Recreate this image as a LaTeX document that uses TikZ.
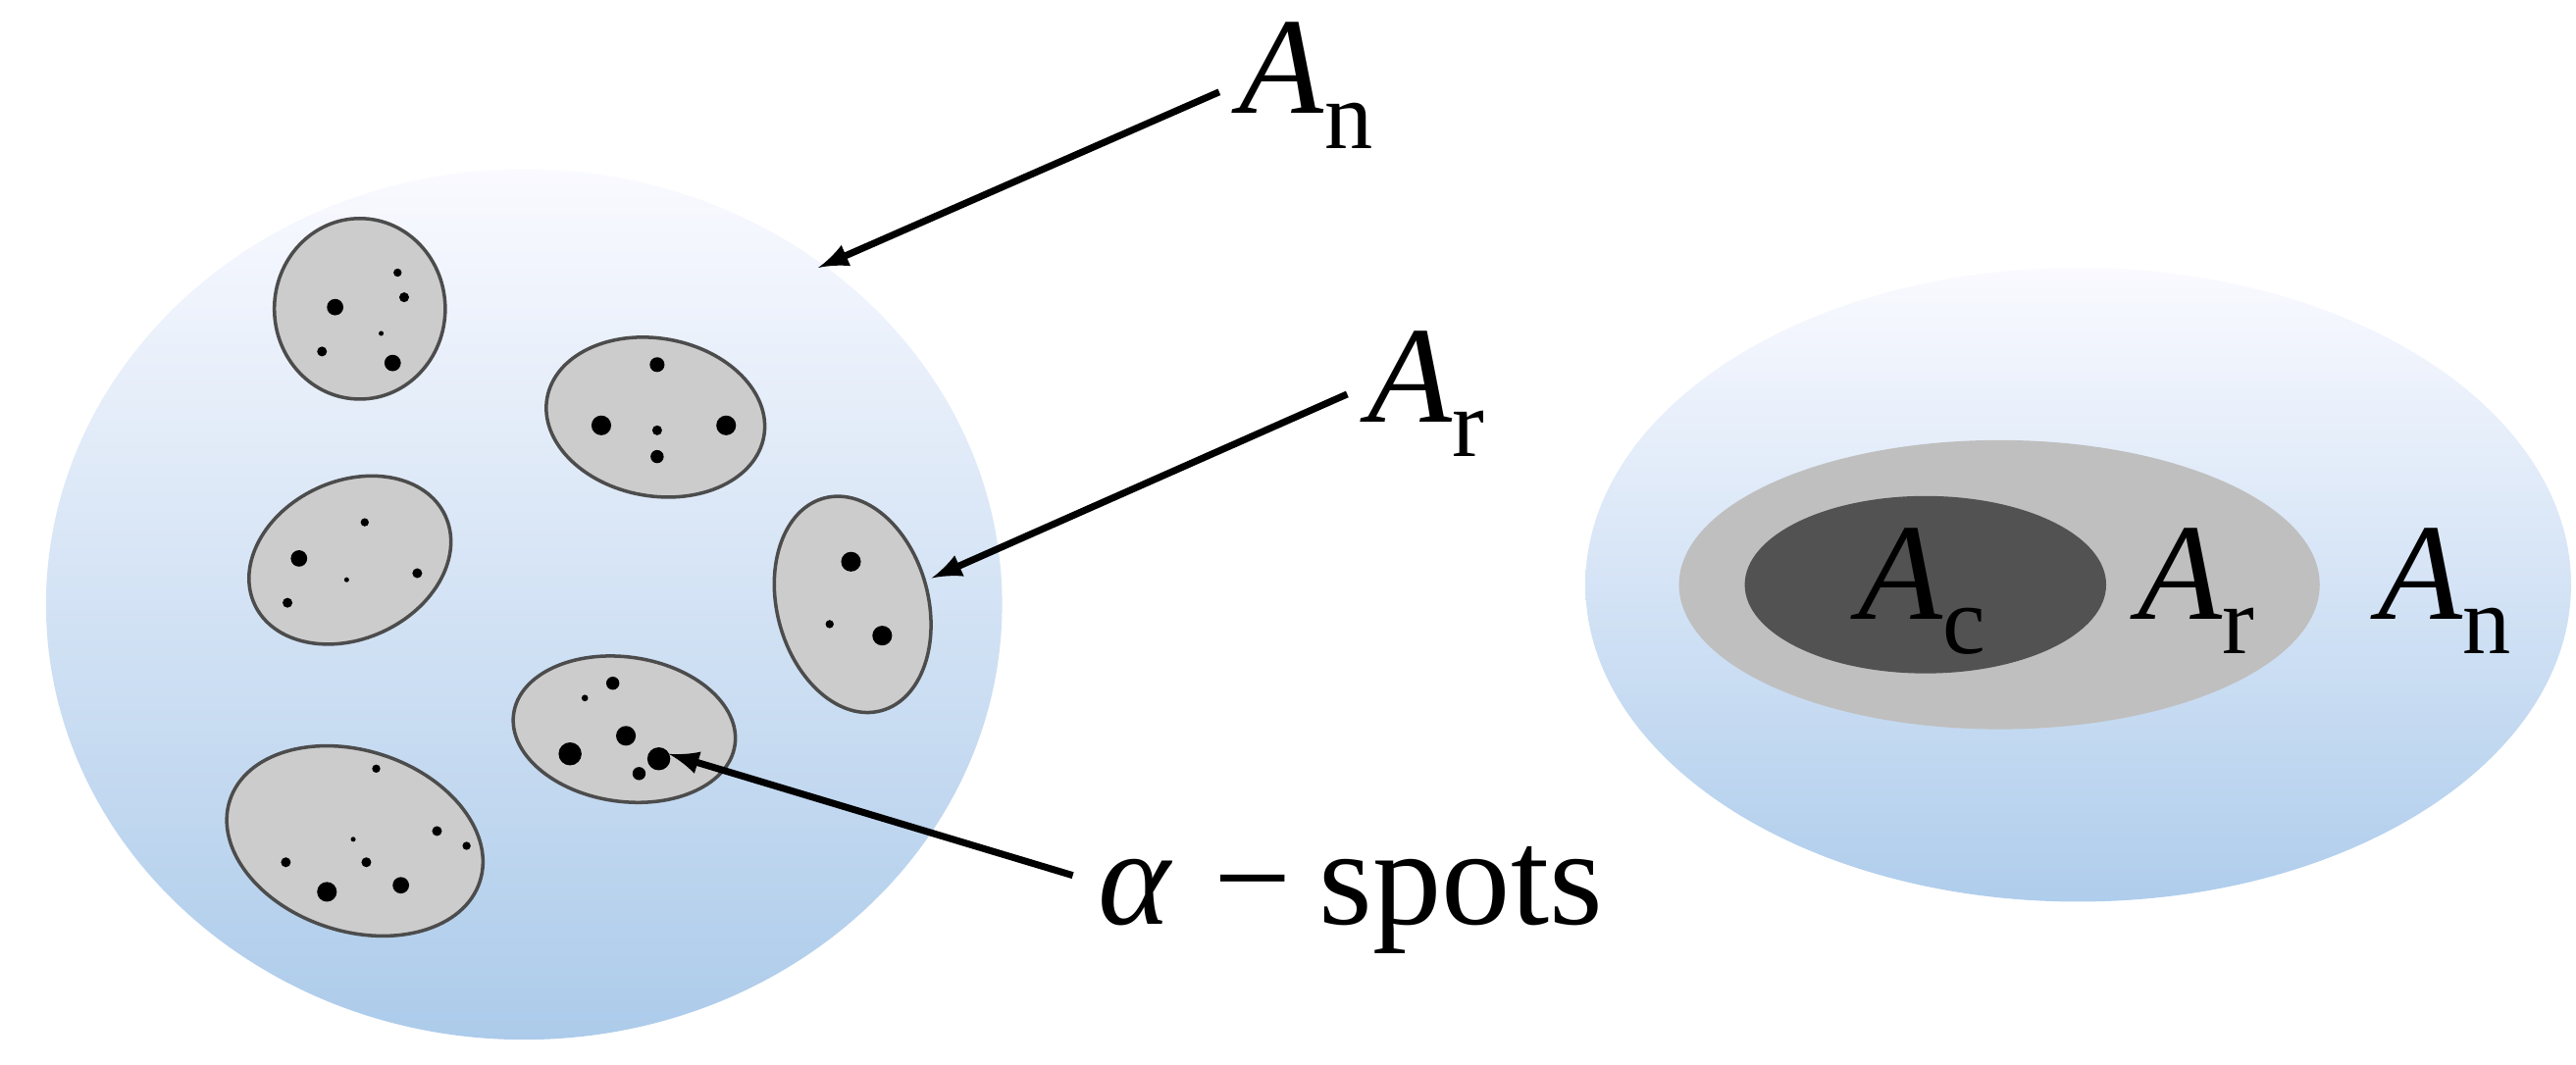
\documentclass[tikz,border=0pt]{standalone}
\usepackage{fontspec}
\setmainfont{Liberation Serif}
\begin{document}
\begin{tikzpicture}[x=0.016747cm,y=-0.016747cm,
  spot/.style={draw=black!70,line width=1pt,fill=gray!40},
  lab/.style={font=\fontsize{40}{46}\selectfont,inner sep=0pt},
  arr/.style={-latex,line width=2pt}]
\newcommand{\lbl}[1]{\textit{A}\raisebox{-0.25em}{\fontsize{28}{32}\selectfont #1}}
\useasboundingbox (0,0) rectangle (1568,648);
\shade[top color=blue!2,bottom color={rgb,255:red,172;green,203;blue,234}] (319,368) ellipse [x radius=291,y radius=265];
\shade[top color=blue!2,bottom color={rgb,255:red,175;green,205;blue,236}] (1265,356) ellipse [x radius=300,y radius=193];
\fill[gray!50] (1217,356) ellipse [x radius=195,y radius=88];
\fill[black!68] (1172,356) ellipse [x radius=110,y radius=54];
% small ellipses
\draw[spot] (219,188) ellipse [x radius=52,y radius=55];
\draw[spot,rotate around={-10:(399,254)}] (399,254) ellipse [x radius=67,y radius=48];
\draw[spot,rotate around={25:(213,341)}] (213,341) ellipse [x radius=64,y radius=48];
\draw[spot,rotate around={15:(519,368)}] (519,368) ellipse [x radius=46,y radius=67];
\draw[spot,rotate around={-8:(380,444)}] (380,444) ellipse [x radius=68,y radius=44];
\draw[spot,rotate around={-18:(216,512)}] (216,512) ellipse [x radius=80,y radius=55];
% dots
\foreach \x/\y/\r in {204/187/5,242/166/2.5,246/181/3,232/203/1.5,196/214/3,239/221/5,
  400/222/4.5,366/259/6,400/262/3,442/259/6,400/278/4,
  222/318/2.5,182/340/5,211/353/1.5,254/349/3,175/367/3,
  518/342/6,505/380/2.5,537/387/6,
  373/416/4,356/425/2,347/459/7,381/448/6,401/462/7,389/471/4,
  229/468/2.5,266/506/3,174/525/3,215/511/1.5,223/525/3,284/515/2.5,199/543/6,244/539/5}
  \fill (\x,\y) circle [radius=\r];
% labels
\node[lab] (an) at (795,52) {\lbl{n}};
\node[lab] (ar) at (868,240) {\lbl{r}};
\node[lab,anchor=west] (al) at (668,548) {\textit{α}\hspace{0.3em}−\hspace{0.2em}spots};
\coordinate (t1) at (498,163);
\coordinate (t2) at (567,352);
\coordinate (t3) at (407,459);
\draw[arr] (an.west)++(-12,4) -- (t1);
\draw[arr] (ar.west)++(-12,0) -- (t2);
\draw[arr] (al.west)++(-15,-15) -- (t3);
\node[lab] (ac2) at (1170,360) {\lbl{c}};
\node[lab] (ar2) at (1337,360) {\lbl{r}};
\node[lab] (an2) at (1488,360) {\lbl{n}};
\end{tikzpicture}
\end{document}
